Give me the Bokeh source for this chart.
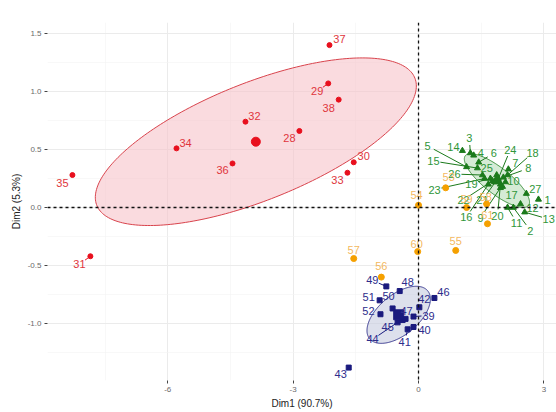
import numpy as np
from bokeh.plotting import figure
from bokeh.models import ColumnDataSource, FixedTicker, Span, Range1d
from bokeh.core.properties import value
from bokeh.embed import file_html
from bokeh.resources import INLINE

# ---------------- data ----------------
red_id = [28, 29, 30, 31, 32, 33, 34, 35, 36, 37, 38]
red_x = [-2.85, -2.16, -1.55, -7.85, -4.14, -1.70, -5.79, -8.28, -4.45, -2.13, -1.91]
red_y = [0.66, 1.07, 0.39, -0.42, 0.74, 0.30, 0.51, 0.28, 0.38, 1.40, 0.93]

green_id = list(range(1, 28))
green_x = [2.87, 2.27, 1.24, 1.32, 1.15, 1.44, 2.15, 2.03, 1.96, 2.08, 2.13, 2.44, 2.54, 1.05,
           1.41, 1.67, 2.01, 2.13, 1.72, 1.96, 1.84, 1.77, 1.58, 1.91, 1.87, 1.53, 2.58]
green_y = [0.07, 0.00, 0.47, 0.45, 0.35, 0.39, 0.33, 0.26, 0.17, 0.22, 0.00, 0.03, -0.04, 0.49,
           0.34, 0.20, 0.18, 0.28, 0.25, 0.20, 0.22, 0.23, 0.25, 0.25, 0.28, 0.28, 0.12]

blue_id = [39, 40, 41, 42, 43, 44, 45, 46, 47, 48, 49, 50, 51, 52]
blue_x = [-0.12, -0.12, -0.26, 0.02, -1.67, -0.50, -0.38, 0.38, -0.31, -0.45, -0.77, -0.62, -0.93, -0.91]
blue_y = [-0.94, -1.03, -1.05, -0.86, -1.38, -0.99, -0.97, -0.78, -0.96, -0.72, -0.68, -0.87, -0.80, -0.92]

orange_id = [53, 54, 55, 56, 57, 58, 59, 60, 61]
orange_x = [0.65, 0.00, 0.89, -0.89, -1.55, 1.63, 1.15, -0.02, 1.65]
orange_y = [0.17, 0.02, -0.37, -0.60, -0.44, 0.03, 0.00, -0.38, -0.14]

# ellipse conjugate half-axes (data units), relative to group centroid
red_ell = [(3.84, 0.48), (0.0, 0.54)]
green_ell = [(0.755, -0.215), (-0.196, -0.087)]
blue_ell = [(0.694, 0.207), (0.306, -0.133)]

x_ticks = [-6, -3, 0, 3]
y_ticks = [-1.0, -0.5, 0.0, 0.5, 1.0, 1.5]
x_title = "Dim1 (90.7%)"
y_title = "Dim2 (5.3%)"

# ---------------- label layout (screen px, y down) ----------------
red_off = [(-10, 7), (-11, 8), (10, -6), (-11, 8), (9, -6), (-10, 7), (9, -5), (-10, 8), (-10, 7), (10, -6), (-10, 8)]
green_off = [(9, 1), (17, 23), (-1, -15), (7, -2), (-39, -21), (15, -9), (7, -6), (25, -9), (-20, 30),
             (8, -1), (9, 15), (12, 4), (24, 7), (-9, -4), (-44, -7), (-22, 33), (9, 8), (25, -22),
             (-19, 5), (-3, 32), (-13, 18), (-29, 19), (-50, 11), (12, -29), (-10, -7), (-28, -1), (9, -5)]
blue_off = [(15, -1), (11, 3), (-3, 13), (5, -8), (-8, 6), (-25, 17), (-15, 7), (9, -6), (1, -8),
            (8, -9), (-14, -6), (-4, -12), (-11, -3), (-12, -3)]
orange_off = [(3, -11), (-2, -10), (0, -9), (0, -11), (0, -9), (-1, -7), (0, -9), (-1, -8), (0, -9)]

FW, FH = 509, 358
SX, SY = 41.8, 116.0
X0 = -8.876
X1 = X0 + FW / SX
Y1 = 1.595
Y0 = Y1 - FH / SY

FONT = "Liberation Sans"

p = figure(frame_width=FW, frame_height=FH, output_backend="svg", toolbar_location=None,
           x_range=Range1d(X0, X1), y_range=Range1d(Y0, Y1),
           min_border_left=47, min_border_right=0, min_border_top=22, min_border_bottom=28,
           background_fill_color="white", border_fill_color="white")
p.outline_line_color = None

# grid
p.xaxis.ticker = FixedTicker(ticks=x_ticks, minor_ticks=[-7.5, -4.5, -1.5, 1.5])
p.yaxis.ticker = FixedTicker(ticks=y_ticks, minor_ticks=[-1.25, -0.75, -0.25, 0.25, 0.75, 1.25])
for g in (p.xgrid, p.ygrid):
    g.grid_line_color = "#EBEBEB"
    g.grid_line_width = 1
    g.minor_grid_line_color = "#F4F4F4"
    g.minor_grid_line_width = 0.6
p.xaxis.major_label_overrides = {t: str(t) for t in x_ticks}
p.yaxis.major_label_overrides = {t: f"{t:.1f}" for t in y_ticks}

for ax in (p.xaxis, p.yaxis):
    ax.axis_line_color = None
    ax.major_tick_line_color = "#444444"
    ax.major_tick_out = 3
    ax.major_tick_in = 0
    ax.minor_tick_line_color = None
    ax.major_label_text_font = FONT
    ax.major_label_text_font_size = "8px"
    ax.major_label_text_color = "#6A6A6A"
    ax.major_label_standoff = 2
    ax.axis_label_text_font = FONT
    ax.axis_label_text_font_size = "10px"
    ax.axis_label_text_font_style = "normal"
    ax.axis_label_text_color = "#222222"
    ax.axis_label_standoff = 3
p.xaxis.axis_label = x_title
p.yaxis.axis_label = y_title

# ellipses
def ellipse(xs, ys, ax):
    cx, cy = np.mean(xs), np.mean(ys)
    t = np.linspace(0, 2 * np.pi, 240)
    (ux, uy), (vx, vy) = ax
    return cx + ux * np.cos(t) + vx * np.sin(t), cy + uy * np.cos(t) + vy * np.sin(t)

for xs, ys, ax, fc, lc in [(red_x, red_y, red_ell, "#F7C3C9", "#D8434C"),
                            (green_x, green_y, green_ell, "#B9DDB9", "#3A8F3A"),
                            (blue_x, blue_y, blue_ell, "#C6CBE0", "#3A3A90")]:
    ex, ey = ellipse(xs, ys, ax)
    p.patch(ex, ey, fill_color=fc, fill_alpha=0.6, line_color=lc, line_width=1)

# reference lines
p.add_layout(Span(location=0, dimension="height", line_color="#111111", line_dash="3 3", line_width=1.3))
p.add_layout(Span(location=0, dimension="width", line_color="#111111", line_dash="3 3", line_width=1.3))

groups = [
    (red_id, red_x, red_y, red_off, "circle", 5, 9, "#E8101E", "#E0353D", 1.0),
    (green_id, green_x, green_y, green_off, "triangle", 6, 11, "#1B7A1B", "#2F963A", 1.0),
    (blue_id, blue_x, blue_y, blue_off, "square", 5, 10, "#1A1A7E", "#2D2D8C", 1.0),
    (orange_id, orange_x, orange_y, orange_off, "circle", 6, None, "#F5A000", "#F2B04A", 0.9),
]

for ids, xs, ys, offs, mk, sz, csz, pc, tc, ta in groups:
    xs = np.array(xs, float); ys = np.array(ys, float)
    dx = np.array([o[0] for o in offs], float)
    dy = np.array([o[1] for o in offs], float)
    # repel segments
    dist = np.hypot(dx, dy)
    m = dist > 13
    if m.any():
        shrink = np.where(m, 1 - 7.0 / np.maximum(dist, 1), 0)
        p.segment(xs[m], ys[m], xs[m] + dx[m] * shrink[m] / SX, ys[m] - dy[m] * shrink[m] / SY,
                  line_color=pc, line_width=1)
    p.scatter(xs, ys, marker=mk, size=sz, fill_color=pc, line_color=pc)
    if csz:
        p.scatter([xs.mean()], [ys.mean()], marker=mk, size=csz, fill_color=pc, line_color=pc)
    src = ColumnDataSource(dict(x=xs, y=ys, t=[str(i) for i in ids], dx=dx, dy=dy))
    p.text(x="x", y="y", text="t", x_offset="dx", y_offset="dy", source=src,
           text_align="center", text_baseline="middle", text_font=value(FONT),
           text_font_size="11px", text_color=tc, text_alpha=ta)

open("out.html", "w").write(file_html(p, INLINE))
